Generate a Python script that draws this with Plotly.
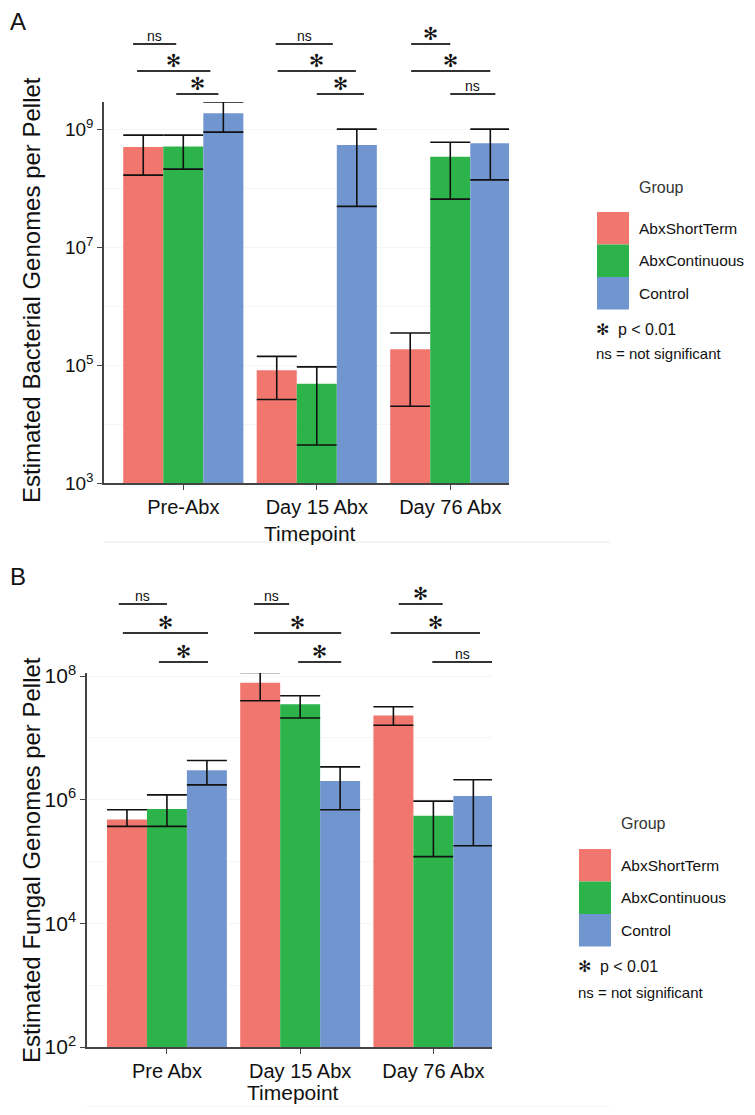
import plotly.graph_objects as go

W, H = 755, 1115
OFF = 8                      # page body margin
FW, FH = W - 2 * OFF, H - 2 * OFF

groups = ["AbxShortTerm", "AbxContinuous", "Control"]
colors = ["#F1766E", "#2CB34A", "#7196CF"]

# panel A - bacterial genomes
tp_a = ["Pre-Abx", "Day 15 Abx", "Day 76 Abx"]
bac_mean = {
    "AbxShortTerm": [5.0e8, 8.2e4, 1.86e5],
    "AbxContinuous": [5.1e8, 4.8e4, 3.4e8],
    "Control": [1.86e9, 5.4e8, 5.75e8],
}
bac_hi = {
    "AbxShortTerm": [7.9e8, 1.4e5, 3.5e5],
    "AbxContinuous": [7.9e8, 9.3e4, 6.0e8],
    "Control": [2.9e9, 1.0e9, 1.0e9],
}
bac_lo = {
    "AbxShortTerm": [1.66e8, 2.6e4, 2.0e4],
    "AbxContinuous": [2.1e8, 4.4e3, 6.5e7],
    "Control": [8.9e8, 4.9e7, 1.38e8],
}

# panel B - fungal genomes
tp_b = ["Pre Abx", "Day 15 Abx", "Day 76 Abx"]
fun_mean = {
    "AbxShortTerm": [4.8e5, 7.8e7, 2.3e7],
    "AbxContinuous": [7.1e5, 3.5e7, 5.5e5],
    "Control": [3.0e6, 2.0e6, 1.15e6],
}
fun_hi = {
    "AbxShortTerm": [6.9e5, 1.15e8, 3.2e7],
    "AbxContinuous": [1.2e6, 4.8e7, 9.5e5],
    "Control": [4.3e6, 3.4e6, 2.1e6],
}
fun_lo = {
    "AbxShortTerm": [3.7e5, 4.0e7, 1.6e7],
    "AbxContinuous": [3.7e5, 2.1e7, 1.2e5],
    "Control": [1.74e6, 6.9e5, 1.8e5],
}

# significance brackets: (x0, x1, label) per row, in category units
sig_a = [
    [(-0.376, -0.053, "ns"), (0.692, 1.12, "ns"), (1.707, 2.0, "*")],
    [(-0.346, 0.203, "*"), (0.707, 1.293, "*"), (1.707, 2.30, "*")],
    [(-0.053, 0.263, "*"), (1.0, 1.353, "*"), (2.0, 2.338, "ns")],
]
sig_b = [
    [(-0.361, 0.0, "ns"), (0.654, 0.917, "ns"), (1.74, 2.07, "*")],
    [(-0.331, 0.308, "*"), (0.654, 1.308, "*"), (1.68, 2.35, "*")],
    [(-0.06, 0.308, "*"), (0.985, 1.308, "*"), (1.992, 2.44, "ns")],
]

FONT = "Arial, Liberation Sans, sans-serif"
STAR = "✻"


def py(px):
    return 1 - (px - OFF) / FH


def px_x(px):
    return (px - OFF) / FW


def note(x, y, text, size, xref="paper", xanchor="center", **kw):
    return dict(xref=xref, yref="paper", x=x, y=y, text=text, showarrow=False,
                xanchor=xanchor, yanchor="middle", font=dict(size=size, **kw))


fig = go.Figure()

for cats, mean, hi, lo, xa, ya in [(tp_a, bac_mean, bac_hi, bac_lo, "x", "y"),
                                   (tp_b, fun_mean, fun_hi, fun_lo, "x2", "y2")]:
    for g, c in zip(groups, colors):
        m = mean[g]
        fig.add_trace(go.Bar(
            x=cats, y=m, name=g, marker_color=c, marker_line_width=0,
            xaxis=xa, yaxis=ya, showlegend=False,
            error_y=dict(type="data", symmetric=False,
                         array=[h - v for h, v in zip(hi[g], m)],
                         arrayminus=[v - l for v, l in zip(m, lo[g])],
                         color="#111111", thickness=1.6, width=20),
        ))

axis_common = dict(showline=True, linecolor="#444444", linewidth=1.5,
                   ticks="outside", ticklen=5, tickcolor="#444444",
                   automargin=False)
xfont = dict(family=FONT, size=20, color="#111111")

fig.update_layout(
    width=FW, height=FH,
    margin=dict(l=0, r=0, t=0, b=0),
    paper_bgcolor="white", plot_bgcolor="white",
    barmode="group", bargap=0.1, bargroupgap=0,
    font=dict(family=FONT, color="#111111"),
    xaxis=dict(domain=[px_x(104), px_x(509)], anchor="y", range=[-0.594, 2.44],
               showgrid=False, tickfont=xfont, **axis_common),
    yaxis=dict(domain=[py(483), py(102)], anchor="x", type="log", range=[3, 9.46],
               tickvals=[1e3, 1e5, 1e7, 1e9],
               ticktext=["10<sup>3</sup>", "10<sup>5</sup>", "10<sup>7</sup>", "10<sup>9</sup>"],
               tickfont=dict(family=FONT, size=19, color="#111111"),
               showgrid=True, gridcolor="#F5F5F5",
               minor=dict(tickvals=[1e4, 1e6, 1e8], showgrid=True, gridcolor="#F5F5F5", ticks=""),
               **axis_common),
    xaxis2=dict(domain=[px_x(87), px_x(492)], anchor="y2", range=[-0.6, 2.44],
                showgrid=False, tickfont=xfont, **axis_common),
    yaxis2=dict(domain=[py(1047), py(673)], anchor="x2", type="log", range=[2, 8.05],
                tickvals=[1e2, 1e4, 1e6, 1e8],
                ticktext=["10<sup>2</sup>", "10<sup>4</sup>", "10<sup>6</sup>", "10<sup>8</sup>"],
                tickfont=dict(family=FONT, size=21, color="#111111"),
                showgrid=True, gridcolor="#F5F5F5",
                minor=dict(tickvals=[1e3, 1e5, 1e7], showgrid=True, gridcolor="#F5F5F5", ticks=""),
                **axis_common),
)

shapes = []
annots = []

# significance brackets
for sig, xref, rows_px in [(sig_a, "x", [44, 71, 94]), (sig_b, "x2", [604, 633, 662])]:
    for row, ypx in zip(sig, rows_px):
        for x0, x1, lab in row:
            shapes.append(dict(type="line", xref=xref, yref="paper", x0=x0, x1=x1,
                               y0=py(ypx), y1=py(ypx),
                               line=dict(color="#333333", width=2)))
            if lab == "ns":
                annots.append(note((x0 + x1) / 2, py(ypx - 8), "ns", 14, xref=xref))
            else:
                annots.append(note((x0 + x1) / 2, py(ypx - 10), STAR, 18, xref=xref))

# panel letters
annots.append(note(px_x(18), py(22), "A", 24))
annots.append(note(px_x(18), py(576), "B", 24))

# axis titles
annots.append(dict(note(px_x(31), py(290), "Estimated Bacterial Genomes per Pellet", 24),
                   textangle=-90))
annots.append(dict(note(px_x(31), py(860), "Estimated Fungal Genomes per Pellet", 24),
                   textangle=-90))
annots.append(note(px_x(310), py(533), "Timepoint", 21))
annots.append(note(px_x(293), py(1092), "Timepoint", 21))

# faint panel bottom lines
for ypx, x0 in [(542, 104), (1107, 87)]:
    shapes.append(dict(type="line", xref="paper", yref="paper", x0=px_x(x0), x1=px_x(610),
                       y0=py(ypx), y1=py(ypx), line=dict(color="#F0F0F0", width=1.5)))

# legends
for title_y, sw_x, sw_top, star_y, ns_y in [(187, 597, 212, 330, 353),
                                             (823, 579, 849, 966, 992)]:
    lab_x = sw_x + 40
    annots.append(note(px_x(lab_x), py(title_y), "Group", 16, xanchor="left", color="#333333"))
    for i, (g, c) in enumerate(zip(groups, colors)):
        y0 = sw_top + i * 32.5
        shapes.append(dict(type="rect", xref="paper", yref="paper",
                           x0=px_x(sw_x), x1=px_x(sw_x + 32), y0=py(y0 + 32.5), y1=py(y0),
                           fillcolor=c, line=dict(width=0)))
        annots.append(note(px_x(lab_x), py(y0 + 16), g, 15.5, xanchor="left"))
    annots.append(note(px_x(sw_x - 3), py(star_y), STAR + "  p < 0.01", 16, xanchor="left"))
    annots.append(note(px_x(sw_x - 3), py(ns_y), "ns = not significant", 15, xanchor="left"))

fig.update_layout(shapes=shapes, annotations=annots)

fig.write_html("out.html")
